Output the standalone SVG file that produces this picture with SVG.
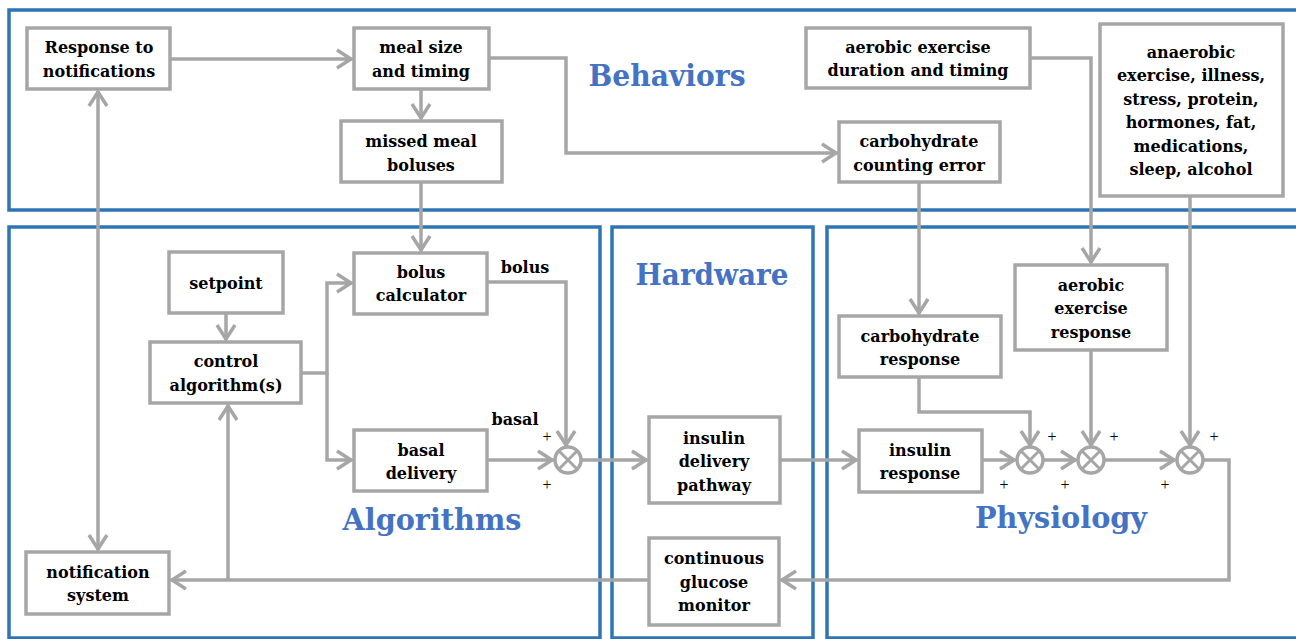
<svg xmlns="http://www.w3.org/2000/svg" width="1296" height="639" viewBox="0 0 1296 639">
  <style>
    .panel { fill: none; stroke: #2E75B6; stroke-width: 3.5; }
    .box { fill: #FFFFFF; stroke: #A6A6A6; stroke-width: 3.5; }
    .lbl { font-family: "DejaVu Serif", "Liberation Serif", serif; font-weight: bold; font-size: 16px; fill: #000000; text-anchor: middle; }
    .title { font-family: "DejaVu Serif", "Liberation Serif", serif; font-weight: bold; font-size: 30px; fill: #4472C4; text-anchor: middle; }
    .wire { fill: none; stroke: #A6A6A6; stroke-width: 3.5; }
    .arr { marker-end: url(#chev); }
    .sum circle { fill: #FFFFFF; stroke: #A6A6A6; stroke-width: 3.5; }
    .sum path { stroke: #A6A6A6; stroke-width: 3; }
    .plus { font-family: "Liberation Serif", serif; font-size: 16px; fill: #000000; text-anchor: middle; }
  </style>
  <defs>
    <marker id="chev" markerUnits="userSpaceOnUse" markerWidth="24" markerHeight="24" viewBox="0 0 24 24" refX="20" refY="12" orient="auto-start-reverse">
      <path d="M5,3 L19,12 L5,21" fill="none" stroke="#A6A6A6" stroke-width="3.5"/>
    </marker>
  </defs>

  <rect width="1296" height="639" fill="#FFFFFF"/>

  <!-- section panels -->
  <g id="panels">
    <rect class="panel" x="9" y="10" width="1300" height="200"/>
    <rect class="panel" x="9" y="227" width="591" height="411"/>
    <rect class="panel" x="612" y="227" width="201" height="411"/>
    <rect class="panel" x="827" y="227" width="500" height="411"/>
    <text class="title" x="667" y="86" textLength="157" lengthAdjust="spacingAndGlyphs">Behaviors</text>
    <text class="title" x="712" y="285" textLength="153" lengthAdjust="spacingAndGlyphs">Hardware</text>
    <text class="title" x="432" y="530" textLength="179" lengthAdjust="spacingAndGlyphs">Algorithms</text>
    <text class="title" x="1061" y="528" textLength="172" lengthAdjust="spacingAndGlyphs">Physiology</text>
  </g>

  <!-- connectors -->
  <g id="connectors">
    <path class="wire arr" d="M170,59 H352"/>
    <path class="wire arr" d="M421,89 V119"/>
    <path class="wire arr" d="M489,58 H566 V153 H837"/>
    <path class="wire arr" d="M421,182 V251"/>
    <path class="wire arr" d="M98,550 V91" style="marker-start:url(#chev)"/>
    <path class="wire arr" d="M1030,58 H1091 V263"/>
    <path class="wire arr" d="M1190,196 V446"/>
    <path class="wire arr" d="M919,182 V314"/>
    <path class="wire arr" d="M226,313 V340"/>
    <path class="wire arr" d="M301,373 H327 V283 H352"/>
    <path class="wire arr" d="M327,373 V460 H352"/>
    <path class="wire arr" d="M487,282 H566 V446"/>
    <path class="wire arr" d="M487,460 H553"/>
    <path class="wire arr" d="M581,460 H647"/>
    <path class="wire arr" d="M780,460 H857"/>
    <path class="wire arr" d="M982,460 H1015"/>
    <path class="wire arr" d="M1043,460 H1076"/>
    <path class="wire arr" d="M1104,460 H1175"/>
    <path class="wire arr" d="M919,377 V412 H1030 V446"/>
    <path class="wire arr" d="M1091,350 V446"/>
    <path class="wire arr" d="M1203,460 H1229 V580 H781"/>
    <path class="wire arr" d="M649,580 H171"/>
    <path class="wire arr" d="M228,580 V405"/>
  </g>

  <!-- summing junctions -->
  <g id="sum-alg" class="sum">
    <circle cx="568" cy="460" r="13"/>
    <path d="M559,451 L577,469 M577,451 L559,469"/>
  </g>
  <g id="sum-carb" class="sum">
    <circle cx="1030" cy="460" r="13"/>
    <path d="M1021,451 L1039,469 M1039,451 L1021,469"/>
  </g>
  <g id="sum-aerobic" class="sum">
    <circle cx="1091" cy="460" r="13"/>
    <path d="M1082,451 L1100,469 M1100,451 L1082,469"/>
  </g>
  <g id="sum-other" class="sum">
    <circle cx="1190" cy="460" r="13"/>
    <path d="M1181,451 L1199,469 M1199,451 L1181,469"/>
  </g>

  <g id="signs">
    <text class="plus" x="547" y="442">+</text>
    <text class="plus" x="547" y="490">+</text>
    <text class="plus" x="1052" y="442">+</text>
    <text class="plus" x="1004" y="490">+</text>
    <text class="plus" x="1114" y="442">+</text>
    <text class="plus" x="1065" y="490">+</text>
    <text class="plus" x="1214" y="442">+</text>
    <text class="plus" x="1165" y="490">+</text>
    <text class="lbl" x="525" y="273">bolus</text>
    <text class="lbl" x="515" y="425">basal</text>
  </g>

  <!-- behaviour nodes -->
  <g id="response-to-notifications">
    <rect class="box" x="27" y="28" width="143" height="61"/>
    <text class="lbl" x="99" y="53">Response to</text>
    <text class="lbl" x="99" y="77">notifications</text>
  </g>
  <g id="meal-size">
    <rect class="box" x="354" y="28" width="135" height="61"/>
    <text class="lbl" x="421" y="53">meal size</text>
    <text class="lbl" x="421" y="77">and timing</text>
  </g>
  <g id="missed-meal-boluses">
    <rect class="box" x="341" y="121" width="161" height="61"/>
    <text class="lbl" x="421" y="147">missed meal</text>
    <text class="lbl" x="421" y="171">boluses</text>
  </g>
  <g id="aerobic-duration">
    <rect class="box" x="806" y="28" width="224" height="60"/>
    <text class="lbl" x="918" y="53">aerobic exercise</text>
    <text class="lbl" x="918" y="76">duration and timing</text>
  </g>
  <g id="carb-counting-error">
    <rect class="box" x="839" y="122" width="161" height="60"/>
    <text class="lbl" x="919" y="147">carbohydrate</text>
    <text class="lbl" x="919" y="171">counting error</text>
  </g>
  <g id="anaerobic-etc">
    <rect class="box" x="1100" y="24" width="183" height="172"/>
    <text class="lbl" x="1191" y="58">anaerobic</text>
    <text class="lbl" x="1191" y="81">exercise, illness,</text>
    <text class="lbl" x="1191" y="105">stress, protein,</text>
    <text class="lbl" x="1191" y="128">hormones, fat,</text>
    <text class="lbl" x="1191" y="152">medications,</text>
    <text class="lbl" x="1191" y="175">sleep, alcohol</text>
  </g>

  <!-- algorithm nodes -->
  <g id="setpoint">
    <rect class="box" x="169" y="252" width="114" height="61"/>
    <text class="lbl" x="226" y="289">setpoint</text>
  </g>
  <g id="control-algorithms">
    <rect class="box" x="150" y="342" width="151" height="61"/>
    <text class="lbl" x="226" y="367">control</text>
    <text class="lbl" x="226" y="391">algorithm(s)</text>
  </g>
  <g id="bolus-calculator">
    <rect class="box" x="354" y="253" width="133" height="61"/>
    <text class="lbl" x="421" y="278">bolus</text>
    <text class="lbl" x="421" y="301">calculator</text>
  </g>
  <g id="basal-delivery">
    <rect class="box" x="354" y="430" width="133" height="61"/>
    <text class="lbl" x="421" y="456">basal</text>
    <text class="lbl" x="421" y="479">delivery</text>
  </g>
  <g id="notification-system">
    <rect class="box" x="26" y="552" width="143" height="62"/>
    <text class="lbl" x="98" y="578">notification</text>
    <text class="lbl" x="98" y="601">system</text>
  </g>

  <!-- hardware nodes -->
  <g id="insulin-delivery-pathway">
    <rect class="box" x="649" y="417" width="131" height="86"/>
    <text class="lbl" x="714" y="444">insulin</text>
    <text class="lbl" x="714" y="467">delivery</text>
    <text class="lbl" x="714" y="491">pathway</text>
  </g>
  <g id="cgm">
    <rect class="box" x="649" y="538" width="130" height="87"/>
    <text class="lbl" x="714" y="564">continuous</text>
    <text class="lbl" x="714" y="588">glucose</text>
    <text class="lbl" x="714" y="611">monitor</text>
  </g>

  <!-- physiology nodes -->
  <g id="carbohydrate-response">
    <rect class="box" x="839" y="316" width="162" height="61"/>
    <text class="lbl" x="920" y="342">carbohydrate</text>
    <text class="lbl" x="920" y="365">response</text>
  </g>
  <g id="aerobic-exercise-response">
    <rect class="box" x="1015" y="265" width="152" height="85"/>
    <text class="lbl" x="1091" y="291">aerobic</text>
    <text class="lbl" x="1091" y="314">exercise</text>
    <text class="lbl" x="1091" y="338">response</text>
  </g>
  <g id="insulin-response">
    <rect class="box" x="859" y="430" width="123" height="62"/>
    <text class="lbl" x="920" y="456">insulin</text>
    <text class="lbl" x="920" y="479">response</text>
  </g>
</svg>
